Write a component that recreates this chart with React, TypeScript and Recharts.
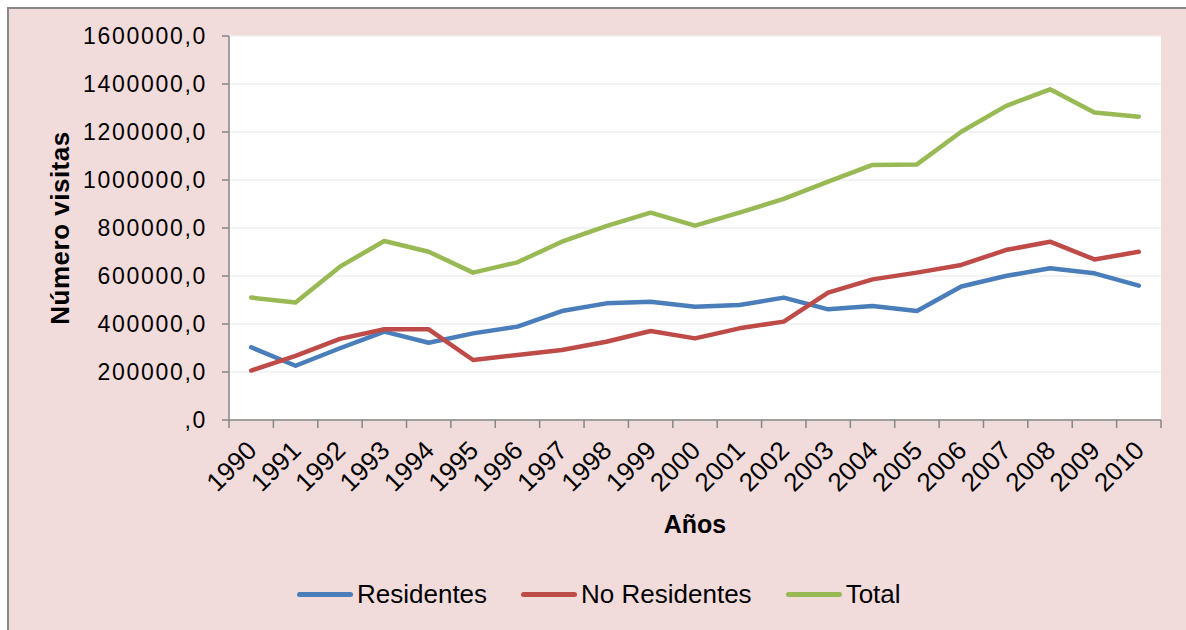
import React from 'react';
import { LineChart, Line, XAxis, YAxis, CartesianGrid, Legend, Label } from 'recharts';

const years = ['1990', '1991', '1992', '1993', '1994', '1995', '1996', '1997', '1998', '1999', '2000', '2001', '2002', '2003', '2004', '2005', '2006', '2007', '2008', '2009', '2010'];
const residentes = [303000, 226000, 299000, 368000, 322000, 361000, 389000, 454000, 486000, 493000, 472000, 479000, 510000, 461000, 475000, 454000, 556000, 600000, 632000, 611000, 560000];
const noResidentes = [206000, 267000, 338000, 378000, 378000, 250000, 271000, 292000, 326000, 371000, 340000, 382000, 410000, 531000, 586000, 614000, 646000, 708000, 743000, 669000, 701000];
const total = [510000, 490000, 639000, 746000, 701000, 614000, 657000, 743000, 808000, 864000, 810000, 864000, 921000, 993000, 1063000, 1065000, 1201000, 1308000, 1378000, 1281000, 1264000];
const yTicks = [0, 200000, 400000, 600000, 800000, 1000000, 1200000, 1400000, 1600000];
const seriesNames = ['Residentes', 'No Residentes', 'Total'];
const xTitle = 'Años';
const yTitle = 'Número visitas';

const data = years.map((year, i) => ({
  year,
  residentes: residentes[i],
  noResidentes: noResidentes[i],
  total: total[i],
}));

const FONT = '"Liberation Sans", Arial, sans-serif';
const W = 1186;
const H = 630;
const margin = { top: 36, right: 25, bottom: 16, left: 8 };
const yAxisWidth = 221;
const plotLeft = margin.left + yAxisWidth;
const plotWidth = W - plotLeft - margin.right;
const band = plotWidth / years.length;
const AXIS = '#868686';

const COLORS = { res: '#4A7EBB', nores: '#BE4B48', total: '#98B954' };

function XTick(props: any) {
  const { x, y, payload, index } = props;
  const half = band / 2;
  const tx = x + 7;
  const ty = y + 32;
  return (
    <g>
      <line x1={x - half} x2={x - half} y1={y} y2={y + 8} stroke={AXIS} strokeWidth={1.5} />
      {index === years.length - 1 && (
        <line x1={x + half} x2={x + half} y1={y} y2={y + 8} stroke={AXIS} strokeWidth={1.5} />
      )}
      <text
        x={tx}
        y={ty}
        textAnchor="end"
        transform={`rotate(-45, ${tx}, ${ty})`}
        fontSize={26}
        fontFamily={FONT}
        fill="#000"
      >
        {payload.value}
      </text>
    </g>
  );
}

function renderLegend(props: any) {
  const payload = [...(props.payload || [])].sort(
    (a: any, b: any) => seriesNames.indexOf(a.value) - seriesNames.indexOf(b.value)
  );
  return (
    <div style={{ display: 'flex', alignItems: 'center', height: 40, fontFamily: FONT }}>
      {payload.map((p: any, i: number) => (
        <div key={i} style={{ display: 'flex', alignItems: 'center', marginRight: 34 }}>
          <div style={{ width: 56, height: 5, background: p.color, borderRadius: 3 }} />
          <span style={{ fontSize: 26, marginLeft: 4, color: '#000', lineHeight: '40px' }}>{p.value}</span>
        </div>
      ))}
    </div>
  );
}

export default function App() {
  return (
    <div style={{ position: 'absolute', left: 0, top: 0, width: W, height: H, overflow: 'hidden', background: '#fff' }}>
      <div
        style={{
          position: 'absolute',
          left: 7,
          top: 7,
          width: W + 20,
          height: H + 20,
          background: '#F2DCDB',
          borderLeft: '2px solid #898989',
          borderTop: '2px solid #898989',
        }}
      />
      <div style={{ position: 'absolute', left: 0, top: 0 }}>
        <LineChart width={W} height={H} data={data} margin={margin}>
          <CartesianGrid vertical={false} stroke="#EFEFEF" strokeWidth={1.5} fill="#FFFFFF" />
          <XAxis
            dataKey="year"
            scale="band"
            height={154}
            interval={0}
            tickLine={false}
            tickSize={0}
            tickMargin={0}
            axisLine={{ stroke: AXIS, strokeWidth: 1.5 }}
            tick={(p: any) => <XTick {...p} />}
          >
            <Label
              content={(p: any) => {
                const vb = p.viewBox || {};
                return (
                  <text
                    x={vb.x + vb.width / 2}
                    y={vb.y + 104}
                    textAnchor="middle"
                    dominantBaseline="central"
                    fontWeight="bold"
                    fontSize={25}
                    fontFamily={FONT}
                    fill="#000"
                  >
                    {xTitle}
                  </text>
                );
              }}
            />
          </XAxis>
          <YAxis
            width={yAxisWidth}
            domain={[0, 1600000]}
            ticks={yTicks}
            interval={0}
            tickSize={7}
            tickMargin={15}
            axisLine={{ stroke: AXIS, strokeWidth: 1.5 }}
            tickLine={{ stroke: AXIS, strokeWidth: 1.5 }}
            tick={{ fontSize: 23, fill: '#000', fontFamily: FONT, letterSpacing: 1.7 }}
            tickFormatter={(v: number) => (v === 0 ? ',0' : `${v},0`)}
          >
            <Label
              content={(p: any) => {
                const vb = p.viewBox || {};
                const cx = vb.x + 52;
                const cy = vb.y + vb.height / 2;
                return (
                  <text
                    x={cx}
                    y={cy}
                    textAnchor="middle"
                    dominantBaseline="central"
                    transform={`rotate(-90, ${cx}, ${cy})`}
                    fontWeight="bold"
                    fontSize={26}
                    letterSpacing={0.5}
                    fontFamily={FONT}
                    fill="#000"
                  >
                    {yTitle}
                  </text>
                );
              }}
            />
          </YAxis>
          <Legend
            verticalAlign="bottom"
            height={40}
            content={renderLegend}
            wrapperStyle={{ left: 297, width: 800, height: 40 }}
          />
          <Line type="linear" dataKey="residentes" name={seriesNames[0]} stroke={COLORS.res} strokeWidth={4.5} dot={false} activeDot={false} strokeLinecap="round" strokeLinejoin="round" isAnimationActive={false} />
          <Line type="linear" dataKey="noResidentes" name={seriesNames[1]} stroke={COLORS.nores} strokeWidth={4.5} dot={false} activeDot={false} strokeLinecap="round" strokeLinejoin="round" isAnimationActive={false} />
          <Line type="linear" dataKey="total" name={seriesNames[2]} stroke={COLORS.total} strokeWidth={4.5} dot={false} activeDot={false} strokeLinecap="round" strokeLinejoin="round" isAnimationActive={false} />
        </LineChart>
      </div>
    </div>
  );
}
